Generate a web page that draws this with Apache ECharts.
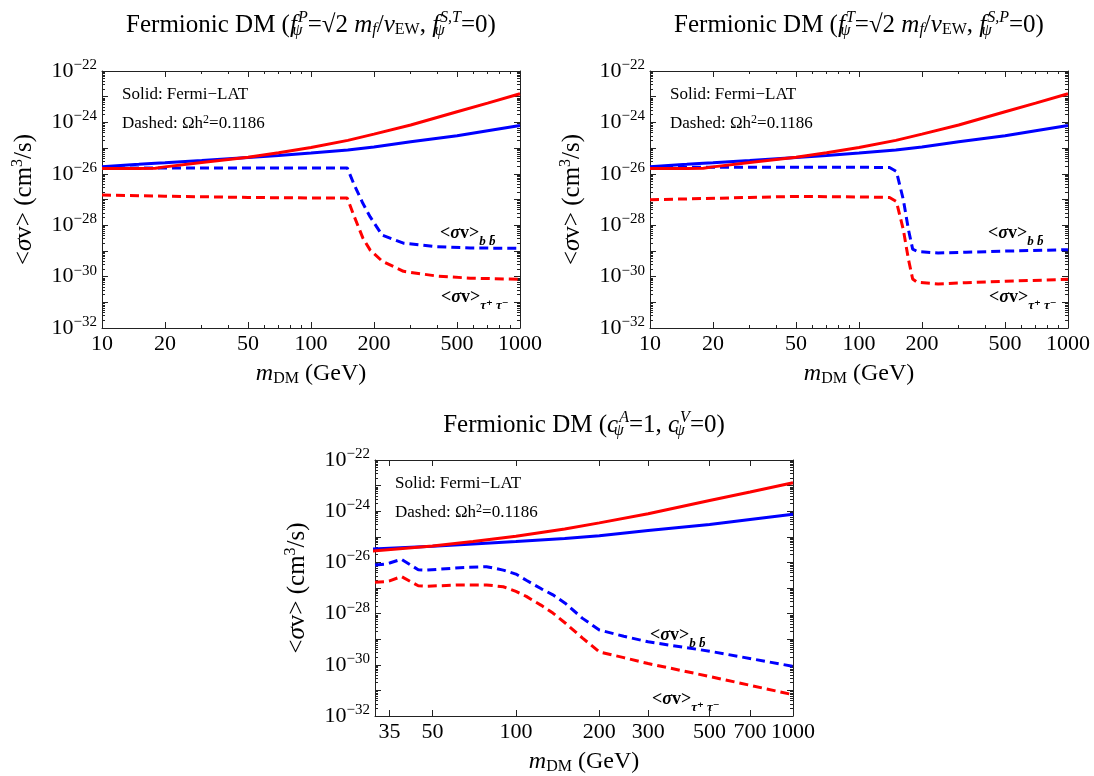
<!DOCTYPE html>
<html><head><meta charset="utf-8">
<script src="https://cdn.jsdelivr.net/npm/echarts@6/dist/echarts.min.js"></script>
<style>html,body{margin:0;padding:0;background:#fff}#c{width:1094px;height:776px}</style>
</head><body><div id="c"></div>
<script>
// ---------------- DATA ----------------
// Fermi-LAT limits (solid), shared by all panels  [<σv> in cm^3/s]
const fermiMass  = [10, 15, 18, 20, 30, 50, 70, 100, 150, 200, 300, 500, 700, 1000];
const fermiBB    = [1.9e-26, 2.35e-26, 2.6e-26, 2.7e-26, 3.3e-26, 4.3e-26, 5.2e-26, 6.5e-26, 8.5e-26, 1.1e-25, 1.75e-25, 3.0e-25, 4.7e-25, 7.6e-25];
const fermiTau   = [1.62e-26, 1.62e-26, 1.66e-26, 1.86e-26, 2.75e-26, 4.4e-26, 6.6e-26, 1.05e-25, 2.0e-25, 3.5e-25, 7.9e-25, 2.6e-24, 5.6e-24, 1.3e-23];

// Panel 1: pseudoscalar (relic, dashed)
const pMass = [10, 20, 50, 100, 149, 160, 177, 192, 219, 277, 400, 578, 1000];
const pBB   = [1.7e-26, 1.7e-26, 1.7e-26, 1.7e-26, 1.7e-26, 4.2e-27, 7.1e-28, 2.1e-28, 4.1e-29, 2.0e-29, 1.45e-29, 1.3e-29, 1.26e-29];
const pTau  = [1.48e-27, 1.35e-27, 1.2e-27, 1.15e-27, 1.15e-27, 2.5e-28, 3.2e-29, 1.07e-29, 4.0e-30, 1.6e-30, 1.05e-30, 8.7e-31, 7.9e-31];

// Panel 2: tensor (relic, dashed)
const tMass = [10, 30, 50, 100, 140, 151, 163, 172.5, 180.6, 190, 239, 325, 500, 1000];
const tBB   = [1.8e-26, 1.8e-26, 1.8e-26, 1.8e-26, 1.75e-26, 1.23e-26, 9.8e-28, 6.6e-29, 1.17e-29, 9.5e-30, 8.3e-30, 8.9e-30, 9.8e-30, 1.12e-29];
const tTau  = [9.8e-28, 1.2e-27, 1.32e-27, 1.26e-27, 1.2e-27, 8.3e-28, 6.6e-29, 4.6e-30, 8.1e-31, 6.0e-31, 5.2e-31, 5.8e-31, 6.6e-31, 7.8e-31];

// Panel 3: axial vector (relic, dashed)
const aMass = [31, 33.5, 35, 38.6, 44.4, 47.6, 62.8, 78.3, 90, 100, 109, 123.5, 136, 151, 174, 200, 245, 300, 500, 1000];
const aBB   = [7.9e-27, 8.5e-27, 9.5e-27, 1.32e-26, 5.2e-27, 5.0e-27, 6.2e-27, 6.8e-27, 5.0e-27, 3.5e-27, 2.0e-27, 9.3e-28, 5.4e-28, 2.5e-28, 6.5e-29, 2.3e-29, 1.3e-29, 7.9e-30, 3.4e-30, 8.7e-31];
const aTau  = [1.66e-27, 1.74e-27, 1.9e-27, 2.8e-27, 1.23e-27, 1.17e-27, 1.32e-27, 1.32e-27, 1.12e-27, 7.4e-28, 4.7e-28, 2.1e-28, 1.05e-28, 4.2e-29, 1.1e-29, 3.2e-30, 1.9e-30, 1.12e-30, 3.5e-31, 6.8e-32];

// tick labels
const xTicksTop    = [10, 20, 50, 100, 200, 500, 1000];
const xMinorTop    = [30, 40, 60, 70, 80, 90, 300, 400, 600, 700, 800, 900];
const xTicksBottom = [35, 50, 100, 200, 300, 500, 700, 1000];
const yLabelExps   = [-32, -30, -28, -26, -24, -22];
const yTickExps    = [-32, -31, -30, -29, -28, -27, -26, -25, -24, -23, -22];

// ---------------- CHART ----------------
// The log axis works in units of 1e-32 cm^3/s (ECharts rounds tick values below ~1e-10).
const Y_UNIT_EXP = -32;
const toAxis = v => v / Math.pow(10, Y_UNIT_EXP);
const FONT = "'Liberation Serif', 'DejaVu Serif', serif";
const RED = '#ff0000', BLUE = '#0000ff', AX = '#222';
const yTickVals  = yTickExps.map(e => Math.pow(10, e - Y_UNIT_EXP));
const yLabelVals = yLabelExps.map(e => Math.pow(10, e - Y_UNIT_EXP));
const yMinor = [];
for (let n = 0; n < 10; n++) for (let k = 2; k <= 9; k++) yMinor.push(k * Math.pow(10, n));

const grids = [
  {left: 102, top: 71, width: 418, height: 257},
  {left: 650, top: 71, width: 418, height: 257},
  {left: 375, top: 460, width: 418, height: 258}
];
const xAxes = [], yAxes = [];
function addAxes(g, xmin, xLabels, xTicks, xMinor) {
  const lineStyle = {color: AX, width: 1};
  const xMain = xAxes.length;
  const baseX = {type: 'log', logBase: 10, gridIndex: g, min: xmin, max: 1000, splitLine: {show: false}, minorTick: {show: false}};
  xAxes.push(Object.assign({}, baseX, {
    position: 'bottom',
    axisLine: {show: true, lineStyle},
    axisTick: {show: true, inside: true, length: 6, customValues: xTicks, lineStyle},
    axisLabel: {customValues: xLabels, formatter: v => String(Math.round(v)), fontFamily: FONT, fontSize: 22, color: '#000', margin: 5},
    name: '{i|m}{sub|DM} (GeV)', nameLocation: 'middle', nameGap: 33,
    nameTextStyle: {fontFamily: FONT, fontSize: 24, color: '#000',
      rich: {i: {fontFamily: FONT, fontSize: 24, fontStyle: 'italic', color: '#000'},
             sub: {fontFamily: FONT, fontSize: 16, color: '#000', padding: [10, 0, 0, 0]}}}
  }));
  xAxes.push(Object.assign({}, baseX, {
    position: 'top', axisLine: {show: true, lineStyle},
    axisTick: {show: true, inside: true, length: 6, customValues: xTicks, lineStyle},
    axisLabel: {show: false}
  }));
  if (xMinor) {
    ['bottom', 'top'].forEach(p => xAxes.push(Object.assign({}, baseX, {
      position: p, axisLine: {show: false},
      axisTick: {show: true, inside: true, length: 3, customValues: xMinor, lineStyle},
      axisLabel: {show: false}
    })));
  }
  const yMain = yAxes.length;
  const baseY = {type: 'log', logBase: 10, gridIndex: g, min: 1, max: 1e10, splitLine: {show: false}, minorTick: {show: false}};
  yAxes.push(Object.assign({}, baseY, {
    position: 'left', axisLine: {show: true, lineStyle},
    axisTick: {show: true, inside: true, length: 6, customValues: yTickVals, lineStyle},
    axisLabel: {customValues: yLabelVals, margin: 5,
      formatter: v => '{b|10}{s|\u2212' + Math.abs(Math.round(Math.log10(v)) + Y_UNIT_EXP) + '}',
      rich: {b: {fontFamily: FONT, fontSize: 22, color: '#000'},
             s: {fontFamily: FONT, fontSize: 15, color: '#000', padding: [0, 0, 12, 0]}}},
    name: '<{i|\u03c3}v> (cm{s|3}/s)', nameLocation: 'middle', nameGap: 64,
    nameTextStyle: {fontFamily: FONT, fontSize: 25, color: '#000',
      rich: {i: {fontFamily: FONT, fontSize: 25, fontStyle: 'italic', color: '#000'},
             s: {fontFamily: FONT, fontSize: 16, color: '#000', padding: [0, 0, 12, 0]}}}
  }));
  yAxes.push(Object.assign({}, baseY, {
    position: 'right', axisLine: {show: true, lineStyle},
    axisTick: {show: true, inside: true, length: 6, customValues: yTickVals, lineStyle},
    axisLabel: {show: false}
  }));
  ['left', 'right'].forEach(p => yAxes.push(Object.assign({}, baseY, {
    position: p, axisLine: {show: false},
    axisTick: {show: true, inside: true, length: 3, customValues: yMinor, lineStyle},
    axisLabel: {show: false}
  })));
  return {x: xMain, y: yMain};
}
const ax0 = addAxes(0, 10, xTicksTop, xTicksTop, xMinorTop);
const ax1 = addAxes(1, 10, xTicksTop, xTicksTop, xMinorTop);
const ax2 = addAxes(2, 31, xTicksBottom, xTicksBottom, null);

function zip(xs, ys) { return xs.map((x, i) => [x, toAxis(ys[i])]); }
function line(ax, xs, ys, color, dashed) {
  return {type: 'line', xAxisIndex: ax.x, yAxisIndex: ax.y, data: zip(xs, ys),
    showSymbol: false, symbol: 'none', smooth: false, silent: true, animation: false,
    lineStyle: {color, width: 3, type: dashed ? [9, 5] : 'solid', cap: 'butt'}};
}
const series = [];
[[ax0, pMass, pBB, pTau], [ax1, tMass, tBB, tTau], [ax2, aMass, aBB, aTau]].forEach(([ax, m, bb, tt]) => {
  series.push(line(ax, m, bb, BLUE, true));
  series.push(line(ax, m, tt, RED, true));
  series.push(line(ax, fermiMass, fermiBB, BLUE, false));
  series.push(line(ax, fermiMass, fermiTau, RED, false));
});

// ---------------- TEXT ----------------
const TS = 25;
const titleRich = {
  n: {fontFamily: FONT, fontSize: TS, color: '#000'},
  i: {fontFamily: FONT, fontSize: TS, fontStyle: 'italic', color: '#000'},
  sbw: {fontFamily: FONT, fontSize: 16, fontStyle: 'italic', color: '#000', padding: [12, 0, 0, 0], width: 1, align: 'left'},
  sp: {fontFamily: FONT, fontSize: 16, fontStyle: 'italic', color: '#000', padding: [0, 0, 15, 0], align: 'left'},
  sbi: {fontFamily: FONT, fontSize: 16, fontStyle: 'italic', color: '#000', padding: [10, 0, 0, 0]},
  sb: {fontFamily: FONT, fontSize: 16, color: '#000', padding: [10, 0, 0, 0]}
};
function title(x, y, text) {
  return {type: 'text', x, y, silent: true,
    style: {text, rich: titleRich, font: TS + 'px ' + FONT, fill: '#000', align: 'center', verticalAlign: 'middle'}};
}
const titles = [
  '{n|Fermionic DM (}{i|f}{sbw|\u03c8}{sp|P}{n|=\u221a2 }{i|m}{sbi|f}{n|/}{i|v}{sb|EW}{n|, }{i|f}{sbw|\u03c8}{sp|S,T}{n|=0)}',
  '{n|Fermionic DM (}{i|f}{sbw|\u03c8}{sp|T}{n|=\u221a2 }{i|m}{sbi|f}{n|/}{i|v}{sb|EW}{n|, }{i|f}{sbw|\u03c8}{sp|S,P}{n|=0)}',
  '{n|Fermionic DM (}{i|c}{sbw|\u03c8}{sp|A}{n|=1, }{i|c}{sbw|\u03c8}{sp|V}{n|=0)}'
];
const noteRich = {
  n: {fontFamily: FONT, fontSize: 17, color: '#000'},
  s: {fontFamily: FONT, fontSize: 12, color: '#000', padding: [0, 0, 8, 0]}
};
function notes(gr) {
  return [
    {type: 'text', x: gr.left + 20, y: gr.top + 24, silent: true,
      style: {text: '{n|Solid: Fermi\u2212LAT}', rich: noteRich, verticalAlign: 'middle'}},
    {type: 'text', x: gr.left + 20, y: gr.top + 53, silent: true,
      style: {text: '{n|Dashed: \u03a9h}{s|2}{n|=0.1186}', rich: noteRich, verticalAlign: 'middle'}}
  ];
}
function sigmaLabel(x, y, color, sub) {
  const r = {
    m: {fontFamily: FONT, fontSize: 18, fontWeight: 'bold', color},
    i: {fontFamily: FONT, fontSize: 18, fontWeight: 'bold', fontStyle: 'italic', color},
    s: {fontFamily: FONT, fontSize: 13, fontWeight: 'bold', fontStyle: 'italic', color, padding: [18, 0, 0, 0]}
  };
  return {type: 'text', x, y, silent: true,
    style: {text: '{m|<}{i|\u03c3}{m|v>}{s|' + sub + '}', rich: r, verticalAlign: 'middle'}};
}
const BB = 'b b\u0304', TT = '\u03c4\u207a \u03c4\u207b';
const graphic = [
  title(311, 25, titles[0]), title(859, 25, titles[1]), title(584, 425, titles[2]),
  ...notes(grids[0]), ...notes(grids[1]), ...notes(grids[2]),
  sigmaLabel(440, 233, BLUE, BB), sigmaLabel(441, 297, RED, TT),
  sigmaLabel(988, 233, BLUE, BB), sigmaLabel(989, 297, RED, TT),
  sigmaLabel(650, 635, BLUE, BB), sigmaLabel(652, 699, RED, TT)
];

const chart = echarts.init(document.getElementById('c'));
chart.setOption({
  backgroundColor: '#fff',
  animation: false,
  grid: grids,
  xAxis: xAxes,
  yAxis: yAxes,
  series,
  graphic
});
</script></body></html>
